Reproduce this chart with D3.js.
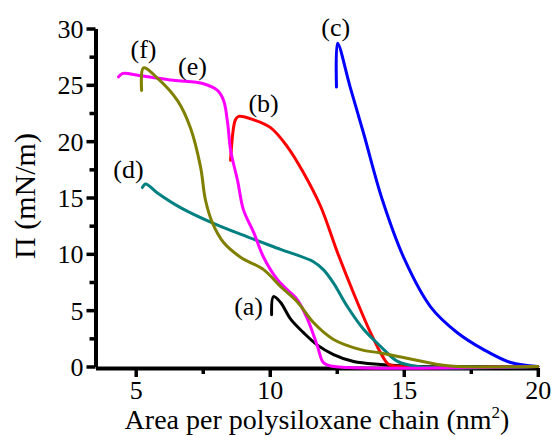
<!DOCTYPE html>
<html>
<head>
<meta charset="utf-8">
<script src="https://cdn.jsdelivr.net/npm/d3@7"></script>
<style>
  body { margin: 0; background: #fff; }
  text { font-family: "Liberation Serif", "Times New Roman", serif; fill: #000; }
</style>
</head>
<body>
<svg id="chart" width="553" height="436"></svg>
<script>
// Axis ticks
const xTicks = [5, 10, 15, 20];
const xMinorTicks = [7.5, 12.5, 17.5];
const yTicks = [0, 5, 10, 15, 20, 25, 30];
const yMinorTicks = [2.5, 7.5, 12.5, 17.5, 22.5, 27.5];

// Surface pressure isotherms: area per chain (nm^2) and pressure (mN/m)
const areaA = [10.07, 10.14, 10.4, 10.78, 11.26, 11.78, 12.38, 13.13, 14.13, 15.6, 20];
const piA   = [4.6, 6.2, 5.7, 4.2, 3.0, 1.9, 1.06, 0.44, 0.18, 0, 0];

const areaB = [8.54, 8.72, 8.84, 9.4, 10.03, 10.66, 11.26, 11.9, 12.53, 13.13, 13.76, 14.21, 14.43, 14.9, 20];
const piB   = [18.3, 21.9, 22.2, 21.9, 21.2, 19.5, 17.2, 14.2, 10.1, 6.5, 3.0, 0.9, 0.2, 0, 0];

const areaC = [12.49, 12.53, 13.0, 13.5, 14.2, 15.03, 16.0, 17.0, 17.98, 18.99, 20];
const piC   = [24.8, 28.7, 24.8, 20.7, 14.8, 9.5, 5.3, 3.0, 1.5, 0.35, 0];

const areaD = [5.25, 5.37, 5.81, 6.67, 7.9, 9.17, 10.4, 11.63, 12.0, 12.38, 12.9, 13.5, 14.13, 14.77, 15.5, 20];
const piD   = [15.9, 16.2, 15.4, 14.1, 12.7, 11.5, 10.4, 9.3, 8.6, 7.4, 5.3, 3.3, 1.8, 0.45, 0, 0];

const areaE = [4.36, 4.5, 5.18, 6.41, 7.53, 8.05, 8.28, 8.43, 8.54, 8.8, 9.02, 9.4, 9.77, 10.29, 10.66, 11.04, 11.41, 11.78, 12.0, 12.27, 20];
const piE   = [25.7, 26.0, 25.8, 25.4, 25.1, 24.5, 23.6, 21.6, 19.2, 16.5, 13.9, 11.9, 9.7, 7.7, 6.8, 5.9, 4.2, 1.8, 0.35, 0.05, 0];

const areaF = [5.22, 5.29, 5.81, 6.56, 7.04, 7.42, 7.6, 7.87, 8.28, 8.91, 9.77, 10.4, 11.04, 11.63, 12.38, 13.39, 14.13, 14.99, 16.26, 17.0, 20];
const piF   = [24.5, 26.5, 25.6, 23.6, 21.2, 17.7, 14.8, 12.7, 11.0, 9.7, 8.6, 7.1, 5.7, 3.9, 2.4, 1.5, 1.2, 0.8, 0.18, 0, 0];

const curveNames  = ["(a)", "(b)", "(c)", "(d)", "(e)", "(f)"];
const curveAreas  = [areaA, areaB, areaC, areaD, areaE, areaF];
const curvePis    = [piA, piB, piC, piD, piE, piF];
const curveColors = ["#000000", "#ff0000", "#0000ff", "#008080", "#ff00ff", "#808000"];

// Where each curve's name sits, in data units
const labelArea = [9.21, 9.77, 12.46, 4.73, 7.12, 5.29];
const labelPi   = [4.6, 22.57, 29.3, 16.73, 25.84, 27.35];

const svg = d3.select("#chart");

const x = d3.scaleLinear().domain([3.5, 20]).range([95.5, 537.8]);
const y = d3.scaleLinear().domain([0, 30]).range([366.5, 28.5]);

const axisColor = "#000";
const serif = "Liberation Serif, Times New Roman, serif";

// x axis: major ticks with labels, minor ticks without
const xAxisG = svg.append("g").attr("transform", `translate(0,${y(0) + 1.5})`);
xAxisG.call(d3.axisBottom(x).tickValues(xTicks).tickSize(9).tickSizeOuter(0).tickFormat(d3.format("d")));
const xMinorG = svg.append("g").attr("transform", `translate(0,${y(0) + 1.5})`);
xMinorG.call(d3.axisBottom(x).tickValues(xMinorTicks).tickSize(6).tickSizeOuter(0).tickFormat(""));
xMinorG.select(".domain").remove();

// y axis
const yAxisG = svg.append("g").attr("transform", `translate(${x(3.5)},0)`);
yAxisG.call(d3.axisLeft(y).tickValues(yTicks).tickSize(9).tickSizeOuter(0).tickFormat(d3.format("d")));
const yMinorG = svg.append("g").attr("transform", `translate(${x(3.5)},0)`);
yMinorG.call(d3.axisLeft(y).tickValues(yMinorTicks).tickSize(6).tickSizeOuter(0).tickFormat(""));
yMinorG.select(".domain").remove();

[xAxisG, yAxisG, xMinorG, yMinorG].forEach(g => {
  g.attr("font-family", serif);
  g.selectAll(".domain").attr("stroke", axisColor).attr("stroke-width", 4);
  g.selectAll(".tick line").attr("stroke", axisColor).attr("stroke-width", 3.5);
});
xAxisG.selectAll(".tick text")
  .attr("font-size", 26).attr("y", 13).attr("dy", "0.71em")
  .attr("font-family", serif);
yAxisG.selectAll(".tick text")
  .attr("font-size", 26).attr("x", -12).attr("dy", "0.34em")
  .attr("font-family", serif);

// Curves
const line = d3.line()
  .x(d => x(d[0]))
  .y(d => y(d[1]))
  .curve(d3.curveCatmullRom.alpha(0.5));

curveAreas.forEach((areas, i) => {
  const pts = areas.map((a, k) => [a, curvePis[i][k]]);
  svg.append("path")
    .datum(pts)
    .attr("d", line)
    .attr("fill", "none")
    .attr("stroke", curveColors[i])
    .attr("stroke-width", 3)
    .attr("stroke-linejoin", "round")
    .attr("stroke-linecap", "round");
});

// Curve names
svg.append("g").selectAll("text")
  .data(curveNames)
  .join("text")
  .attr("x", (d, i) => x(labelArea[i]))
  .attr("y", (d, i) => y(labelPi[i]))
  .attr("text-anchor", "middle")
  .attr("font-size", 26)
  .text(d => d);

// Axis titles
const xTitle = svg.append("text")
  .attr("x", 317).attr("y", 429)
  .attr("text-anchor", "middle")
  .attr("font-size", 28);
xTitle.append("tspan").text("Area per polysiloxane chain (nm");
xTitle.append("tspan").attr("font-size", 17).attr("dy", -11).text("2");
xTitle.append("tspan").attr("dy", 11).text(")");

svg.append("text")
  .attr("transform", "translate(35,196) rotate(-90)")
  .attr("text-anchor", "middle")
  .attr("font-size", 30)
  .text("Π (mN/m)");
</script>
</body>
</html>
